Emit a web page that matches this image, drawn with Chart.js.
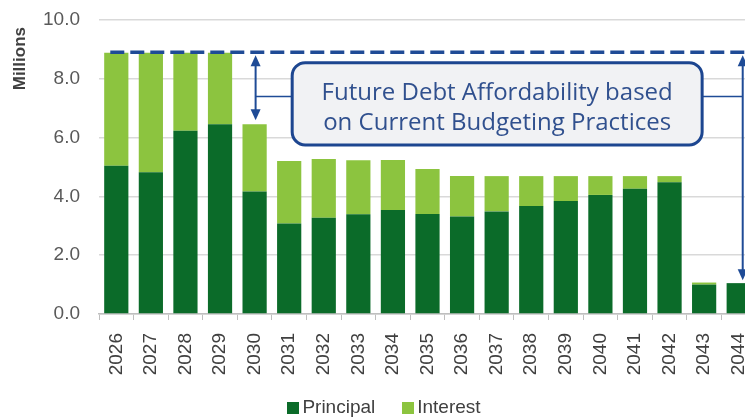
<!DOCTYPE html>
<html>
<head>
    <title>Debt Service Schedule</title>
    <script src="https://cdn.jsdelivr.net/npm/chart.js"></script>
    <style>
        body { margin: 0; overflow: hidden; background: #fff; }
        #wrap { position: relative; width: 756px; height: 420px; }
        #legend {
            position: absolute; left: 0; top: 397px; width: 768px;
            display: flex; justify-content: center; gap: 27px;
            font: 19px "Liberation Sans", Arial, sans-serif; line-height: 20px; color: #404040;
        }
        #legend span.box { display: inline-block; width: 12px; height: 12px; margin: 0 3px 0 0; vertical-align: -1px; }
    </style>
</head>
<body>
    <div id="wrap">
        <canvas id="debtChart" width="756" height="420"></canvas>
        <div id="legend"></div>
    </div>

    <script>
        const years = ['2026', '2027', '2028', '2029', '2030', '2031', '2032', '2033', '2034', '2035',
                       '2036', '2037', '2038', '2039', '2040', '2041', '2042', '2043', '2044'];
        // millions
        const principal = [5.04, 4.82, 6.23, 6.45, 4.17, 3.08, 3.27, 3.39, 3.54, 3.40,
                           3.32, 3.49, 3.67, 3.84, 4.05, 4.26, 4.48, 1.00, 1.05];
        const interest = [3.85, 4.07, 2.66, 2.44, 2.28, 2.12, 2.00, 1.84, 1.70, 1.53,
                          1.37, 1.20, 1.02, 0.85, 0.64, 0.43, 0.21, 0.07, 0.00];
        const yTicks = [0, 2, 4, 6, 8, 10];
        const affordability = 8.9;
        const noteLines = ['Future Debt Affordability based', 'on Current Budgeting Practices'];
        const yTitle = 'Millions';

        const navy = '#1f4b96';

        function arrowHead(ctx, x, y, dir) {
            // dir = -1 points up, 1 points down
            ctx.beginPath();
            ctx.moveTo(x, y);
            ctx.lineTo(x - 5, y - dir * 11);
            ctx.lineTo(x + 5, y - dir * 11);
            ctx.closePath();
            ctx.fill();
        }

        function doubleArrow(ctx, x, y1, y2) {
            ctx.beginPath();
            ctx.moveTo(x, y1 + 8);
            ctx.lineTo(x, y2 - 8);
            ctx.stroke();
            arrowHead(ctx, x, y1, -1);
            arrowHead(ctx, x, y2, 1);
        }

        function roundRect(ctx, x, y, w, h, r) {
            ctx.beginPath();
            ctx.moveTo(x + r, y);
            ctx.arcTo(x + w, y, x + w, y + h, r);
            ctx.arcTo(x + w, y + h, x, y + h, r);
            ctx.arcTo(x, y + h, x, y, r);
            ctx.arcTo(x, y, x + w, y, r);
            ctx.closePath();
        }

        // unit label sitting near the top of the value axis
        const unitTitle = {
            id: 'unitTitle',
            afterDraw(chart) {
                const { ctx, chartArea } = chart;
                ctx.save();
                ctx.translate(20, chartArea.top + 7);
                ctx.rotate(-Math.PI / 2);
                ctx.font = 'bold 17px "Liberation Sans", Arial';
                ctx.fillStyle = '#404040';
                ctx.textAlign = 'right';
                ctx.textBaseline = 'middle';
                ctx.fillText(yTitle, 0, 0);
                ctx.restore();
            }
        };

        // affordability ceiling, gap arrows and the callout box
        const affordabilityNote = {
            id: 'affordabilityNote',
            afterDatasetsDraw(chart) {
                const { ctx, scales: { x, y } } = chart;
                const totals = principal.map((p, i) => p + interest[i]);
                const limitY = y.getPixelForValue(affordability);
                const last = years.length - 1;

                ctx.save();
                ctx.strokeStyle = navy;
                ctx.lineWidth = 3.5;
                ctx.setLineDash([14, 6]);
                ctx.beginPath();
                ctx.moveTo(x.getPixelForValue(0) - 6, limitY);
                ctx.lineTo(chart.width, limitY);
                ctx.stroke();
                ctx.setLineDash([]);

                ctx.strokeStyle = navy;
                ctx.fillStyle = navy;
                ctx.lineWidth = 2;
                const leftX = x.getPixelForValue(4) + 1;
                const rightX = x.getPixelForValue(last) + 4;
                doubleArrow(ctx, leftX, limitY + 3, y.getPixelForValue(totals[4]) - 4);
                doubleArrow(ctx, rightX, limitY + 3, y.getPixelForValue(totals[last]) - 3);

                const boxL = x.getPixelForValue(5) + 3;
                const boxR = x.getPixelForValue(17) - 2;
                const boxT = y.getPixelForValue(8.55);
                const boxB = y.getPixelForValue(5.75);
                const linkY = y.getPixelForValue(7.4);

                ctx.lineWidth = 1.5;
                ctx.beginPath();
                ctx.moveTo(leftX, linkY);
                ctx.lineTo(boxL, linkY);
                ctx.moveTo(boxR, linkY);
                ctx.lineTo(rightX, linkY);
                ctx.stroke();

                roundRect(ctx, boxL, boxT, boxR - boxL, boxB - boxT, 13);
                ctx.fillStyle = '#f1f2f4';
                ctx.fill();
                ctx.lineWidth = 3;
                ctx.strokeStyle = '#1d4690';
                ctx.stroke();

                ctx.fillStyle = '#30508e';
                ctx.font = '24px "Open Sans"';
                ctx.textAlign = 'center';
                ctx.textBaseline = 'alphabetic';
                const cx = (boxL + boxR) / 2;
                ctx.fillText(noteLines[0], cx, boxT + 37);
                ctx.fillText(noteLines[1], cx, boxT + 67);
                ctx.restore();
            }
        };

        const chart = new Chart(document.getElementById('debtChart'), {
            type: 'bar',
            data: {
                labels: years,
                datasets: [{
                    label: 'Principal',
                    data: principal,
                    backgroundColor: '#0b6b29'
                }, {
                    label: 'Interest',
                    data: interest,
                    backgroundColor: '#8cc43f'
                }]
            },
            options: {
                responsive: false,
                animation: false,
                datasets: {
                    bar: { categoryPercentage: 1, barPercentage: 0.7 }
                },
                layout: { padding: { top: 20, left: 0, right: 0, bottom: 0 } },
                plugins: {
                    tooltip: { enabled: false },
                    legend: { display: false }
                },
                scales: {
                    x: {
                        stacked: true,
                        afterFit: (scale) => {
                            scale.height = 106;
                            scale.paddingLeft = 0;
                            scale.paddingRight = 0;
                        },
                        border: { color: '#bfbfbf', width: 1.5 },
                        grid: {
                            display: true,
                            drawOnChartArea: false,
                            color: '#bfbfbf',
                            tickLength: 6
                        },
                        ticks: {
                            minRotation: 90,
                            maxRotation: 90,
                            padding: 13,
                            color: '#404040',
                            font: { family: '"Liberation Sans", Arial', size: 19 }
                        }
                    },
                    y: {
                        stacked: true,
                        min: 0,
                        max: 10,
                        afterFit: (scale) => {
                            scale.width = 99;
                            scale.paddingTop = 0;
                            scale.paddingBottom = 0;
                        },
                        afterBuildTicks: (scale) => {
                            scale.ticks = yTicks.map(v => ({ value: v }));
                        },
                        border: { display: false },
                        grid: { color: '#d9d9d9', lineWidth: 1.5, drawTicks: false },
                        ticks: {
                            padding: 19,
                            color: '#595959',
                            font: { family: '"Liberation Sans", Arial', size: 19 },
                            callback: (v) => Number(v).toFixed(1)
                        }
                    }
                }
            },
            plugins: [affordabilityNote, unitTitle]
        });

        // legend below the axis, built from the datasets
        const legendEl = document.getElementById('legend');
        chart.data.datasets.forEach(ds => {
            const item = document.createElement('div');
            const box = document.createElement('span');
            box.className = 'box';
            box.style.background = ds.backgroundColor;
            item.appendChild(box);
            item.appendChild(document.createTextNode(ds.label));
            legendEl.appendChild(item);
        });
    </script>
</body>
</html>
